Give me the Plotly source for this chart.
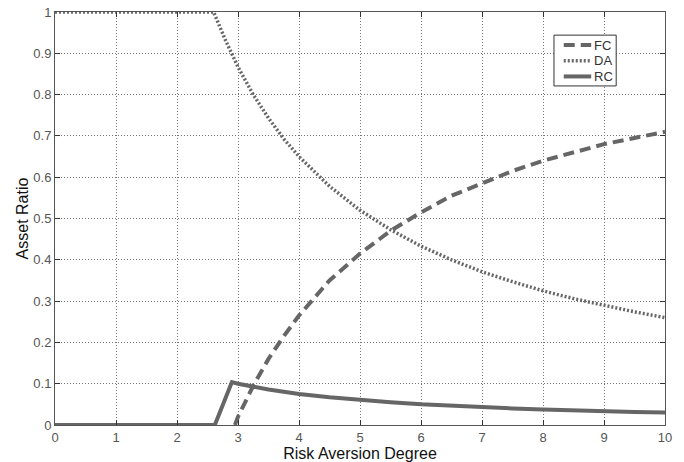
import plotly.graph_objects as go

# Data
x_fc = [2.95, 3.0, 3.25, 3.5, 3.75, 4.0, 4.5, 5.0, 5.5, 6.0, 6.5, 7.0, 7.5, 8.0, 8.5, 9.0, 9.5, 10.0]
y_fc = [0.0, 0.02, 0.095, 0.16, 0.215, 0.265, 0.35, 0.415, 0.47, 0.515, 0.555, 0.585, 0.615, 0.64, 0.66, 0.68, 0.695, 0.71]

x_da = [0.0, 1.0, 2.0, 2.6, 2.8, 3.0, 3.25, 3.5, 3.75, 4.0, 4.5, 5.0, 5.5, 6.0, 6.5, 7.0, 7.5, 8.0, 8.5, 9.0, 9.5, 10.0]
y_da = [1.0, 1.0, 1.0, 1.0, 0.93, 0.867, 0.8, 0.743, 0.693, 0.65, 0.578, 0.52, 0.473, 0.433, 0.4, 0.371, 0.347, 0.325, 0.306, 0.289, 0.274, 0.26]

x_rc = [0.0, 1.0, 2.0, 2.62, 2.9, 3.0, 3.5, 4.0, 4.5, 5.0, 5.5, 6.0, 6.5, 7.0, 7.5, 8.0, 8.5, 9.0, 9.5, 10.0]
y_rc = [0.0, 0.0, 0.0, 0.0, 0.104, 0.1, 0.086, 0.075, 0.067, 0.06, 0.055, 0.05, 0.046, 0.043, 0.04, 0.0375, 0.035, 0.033, 0.0315, 0.03]

x_ticks = [0, 1, 2, 3, 4, 5, 6, 7, 8, 9, 10]
y_ticks = [0, 0.1, 0.2, 0.3, 0.4, 0.5, 0.6, 0.7, 0.8, 0.9, 1]
y_tick_labels = ["0", "0.1", "0.2", "0.3", "0.4", "0.5", "0.6", "0.7", "0.8", "0.9", "1"]

series_names = ["FC", "DA", "RC"]
series_dash = ["11px,6px", "2px,2px", "solid"]
series_width = [4, 3.5, 4]

line_color = "#666666"
font_family = "Liberation Sans, Arial, sans-serif"

fig = go.Figure()
for name, xs, ys, dash, w in zip(series_names, [x_fc, x_da, x_rc], [y_fc, y_da, y_rc],
                                  series_dash, series_width):
    fig.add_trace(go.Scatter(x=xs, y=ys, mode="lines", name=name, showlegend=False,
                             line=dict(color=line_color, width=w, dash=dash)))

axis_common = dict(
    showline=True, linecolor="#555555", linewidth=1, mirror="ticks",
    ticks="inside", ticklen=5, tickcolor="#333333",
    showgrid=True, gridcolor="#777777", griddash="1px,2px", gridwidth=1,
    zeroline=False, automargin=False,
    tickfont=dict(family=font_family, size=13, color="#555555"),
)

fig.update_xaxes(range=[0, 10], tickvals=x_ticks, ticktext=[str(v) for v in x_ticks],
                 title=dict(text="Risk Aversion Degree", standoff=0,
                            font=dict(family=font_family, size=16, color="#111111")),
                 **axis_common)
fig.update_yaxes(range=[0, 1], tickvals=y_ticks, ticktext=y_tick_labels,
                 title=dict(text="Asset Ratio", standoff=0,
                            font=dict(family=font_family, size=16, color="#111111")),
                 **axis_common)

# Legend box drawn in plot-area (paper) coordinates
legend_box = dict(x0=0.818, x1=0.920, y0=0.821, y1=0.944)
legend_rows_y = [0.920, 0.882, 0.844]
sample_x0, sample_x1, text_x = 0.834, 0.879, 0.882

fig.add_shape(type="rect", xref="paper", yref="paper",
              x0=legend_box["x0"], x1=legend_box["x1"], y0=legend_box["y0"], y1=legend_box["y1"],
              line=dict(color="#333333", width=1), fillcolor="white", layer="above")
for name, dash, w, yy in zip(series_names, series_dash, series_width, legend_rows_y):
    fig.add_shape(type="line", xref="paper", yref="paper",
                  x0=sample_x0, x1=sample_x1, y0=yy, y1=yy, layer="above",
                  line=dict(color=line_color, width=w, dash=dash))
    fig.add_annotation(xref="paper", yref="paper", x=text_x, y=yy, text=name,
                       showarrow=False, xanchor="left", yanchor="middle", borderpad=0,
                       font=dict(family=font_family, size=13, color="#333333"))

fig.update_layout(
    width=684, height=462,
    margin=dict(l=55, r=19, t=12, b=37),
    plot_bgcolor="white", paper_bgcolor="white",
    showlegend=False,
)

fig.write_html("out.html", config={"displayModeBar": False},
               post_script="document.body.style.margin='0';document.body.style.overflow='hidden';")
